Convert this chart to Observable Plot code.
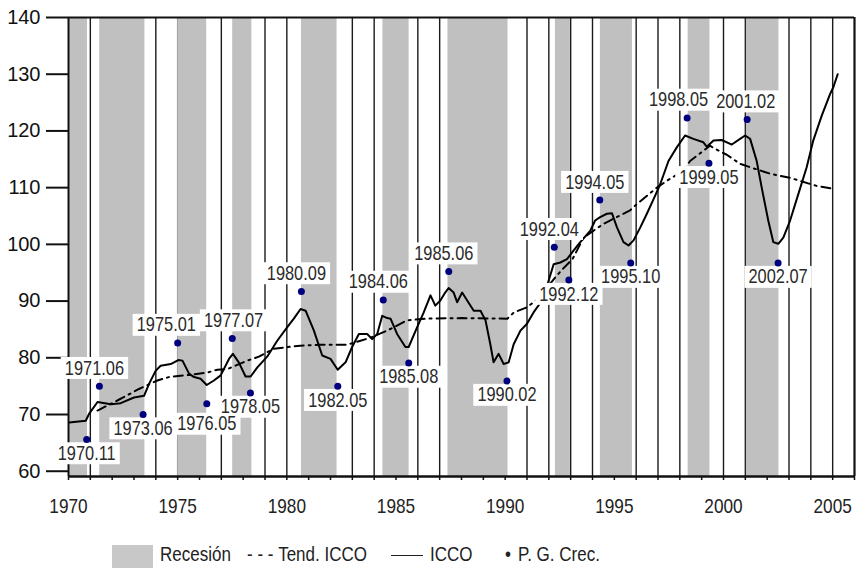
<!DOCTYPE html>
<html><head><meta charset="utf-8">
<script src="https://cdn.jsdelivr.net/npm/d3@7"></script>
<script src="https://cdn.jsdelivr.net/npm/@observablehq/plot@0.6"></script>
<style>
body{margin:0;background:#fff;}
#wrap{position:relative;width:862px;height:568px;overflow:hidden;background:#fff;}
.lg{position:absolute;font-family:"Liberation Sans",Arial,sans-serif;font-size:20px;color:#222;top:541px;line-height:26px;white-space:nowrap;transform:scaleX(0.85);transform-origin:0 50%;}
.sw{position:absolute;}
</style></head><body>
<div id="wrap"><div id="chart"></div>
<div class="sw" style="left:112px;top:545px;width:41px;height:24px;background:#c8c8c8;"></div>
<div class="lg" style="left:160px;">Recesión</div>
<div class="lg" style="left:247px;">-&nbsp;-&nbsp;-&nbsp;Tend. ICCO</div>
<div class="sw" style="left:391px;top:555px;width:32px;height:0;border-top:1.5px solid #222;"></div>
<div class="lg" style="left:430px;">ICCO</div>
<div class="lg" style="left:505px;">•</div>
<div class="lg" style="left:518px;">P. G. Crec.</div>
</div>
<script>
// ICCO index
const iccoYear = [1970.03,1970.79,1970.94,1971.33,1971.94,1972.39,1973.0,1973.46,1973.69,1973.99,1974.22,1974.68,1975.03,1975.22,1975.52,1975.75,1976.05,1976.33,1976.66,1976.97,1977.35,1977.53,1977.8,1978.11,1978.34,1978.65,1979.1,1979.56,1980.02,1980.32,1980.63,1980.86,1981.24,1981.62,1982.0,1982.33,1982.69,1982.99,1983.3,1983.68,1983.91,1984.14,1984.37,1984.6,1984.75,1985.05,1985.43,1985.58,1985.97,1986.27,1986.58,1986.8,1987.03,1987.22,1987.41,1987.64,1987.8,1988.03,1988.26,1988.56,1988.87,1989.1,1989.32,1989.47,1989.7,1989.93,1990.16,1990.39,1990.7,1991.0,1991.3,1991.69,1991.92,1992.22,1992.53,1992.83,1993.13,1993.44,1993.9,1994.12,1994.35,1994.66,1994.89,1995.12,1995.42,1995.65,1995.88,1996.19,1996.49,1996.87,1997.1,1997.48,1997.86,1998.24,1998.62,1999.08,1999.24,1999.54,1999.92,2000.38,2000.76,2000.99,2001.22,2001.52,2001.75,2002.05,2002.28,2002.51,2002.74,2003.05,2003.43,2003.81,2004.11,2004.5,2004.88,2005.03,2005.23];
const iccoValue = [68.6,68.9,70.1,72.2,71.8,72.0,73.0,73.3,75.4,77.7,78.6,78.9,79.6,79.5,77.2,76.6,76.3,75.2,76.0,76.9,79.8,80.7,79.2,76.7,76.7,78.3,80.2,83.0,85.4,86.9,88.6,88.3,84.8,80.4,79.8,77.9,79.2,81.9,84.2,84.2,83.3,84.2,87.4,87.0,86.9,84.2,81.9,81.9,85.4,88.0,91.0,89.2,90.1,91.3,92.3,91.5,89.8,91.5,90.1,88.3,88.3,86.6,82.4,79.2,80.7,78.9,79.2,82.4,84.8,86.0,88.0,90.1,92.7,96.5,96.8,97.4,98.9,100.4,102.4,104.2,104.8,105.4,105.5,103.0,100.4,99.8,100.7,103.0,105.4,108.6,110.6,114.7,117.1,119.2,118.6,118.0,117.2,118.3,118.4,117.6,118.6,119.2,118.6,114.7,110.0,104.2,100.4,100.1,101.2,104.2,108.9,113.6,118.3,122.7,126.5,127.7,130.0];

// Tendencia ICCO
const trendYear = [1971.33,1972.3,1973.23,1974.07,1974.6,1975.03,1975.6,1976.36,1976.82,1977.27,1978.19,1978.72,1979.4,1980.48,1981.5,1982.76,1983.8,1984.6,1985.5,1986.4,1988.0,1990.1,1990.4,1991.0,1991.5,1992.3,1992.6,1993.1,1993.59,1994.5,1994.8,1995.72,1996.03,1996.95,1997.4,1998.17,1998.47,1999.38,1999.54,2000.15,2000.76,2001.3,2002.1,2002.56,2003.08,2004.27,2005.03];
const trendValue = [70.7,72.6,74.5,76.0,76.6,76.8,77.0,77.4,77.9,78.0,79.5,80.2,81.6,82.1,82.3,82.3,83.5,84.8,86.6,86.9,87.0,86.9,88.0,88.9,90.4,94.2,95.5,97.5,101.2,103.6,104.2,106.0,107.1,110.0,111.2,113.0,114.7,117.4,117.0,115.8,114.2,113.5,112.5,112.1,111.7,110.3,109.8];

// Recesiones
const recStart = [1970.0,1971.43,1975.0,1977.52,1980.67,1984.4,1987.38,1992.3,1994.36,1998.38,2001.05];
const recEnd   = [1970.87,1973.5,1976.33,1978.4,1982.3,1985.6,1990.13,1992.99,1995.83,1999.38,2002.54];

// Puntos de giro del crecimiento
const pgYear  = [1970,1971,1973,1975,1976,1977,1978,1980,1982,1984,1985,1987,1990,1992,1992,1994,1995,1998,1999,2001,2002];
const pgMonth = [11,6,6,1,5,7,5,9,5,6,8,6,2,4,12,5,10,5,5,2,7];
const pgValue = [65.6,75.0,70.0,82.6,71.9,83.4,73.8,91.7,75.0,90.2,79.1,95.2,75.9,99.5,93.7,107.8,96.7,122.3,114.3,122.0,96.7];
const pgType  = ["T","P","T","P","T","P","T","P","T","P","T","P","T","P","T","P","T","P","T","P","T"];
const pgLabel = ["1970.11","1971.06","1973.06","1975.01","1976.05","1977.07","1978.05","1980.09","1982.05","1984.06","1985.08","1985.06","1990.02","1992.04","1992.12","1994.05","1995.10","1998.05","1999.05","2001.02","2002.07"];

const yTicks = [60,70,80,90,100,110,120,130,140];
const xLabelYears = [1970,1975,1980,1985,1990,1995,2000,2005];
const xTickYears = d3.range(1970, 2007);

const icco = iccoYear.map((x,i)=>({x, y:iccoValue[i]}));
const trend = trendYear.map((x,i)=>({x, y:trendValue[i]}));
const rec = recStart.map((s,i)=>({s, e:recEnd[i]}));
const pg = pgYear.map((yr,i)=>({x: yr + (pgMonth[i]-1)/12, y: pgValue[i], type: pgType[i], label: pgLabel[i]}));

const yMin = 59.07;
const sans = "Liberation Sans, Arial, sans-serif";

const chart = Plot.plot({
  width: 862, height: 530,
  marginLeft: 68, marginRight: 8, marginTop: 17, marginBottom: 54,
  x: {domain: [1970, 2006]},
  y: {domain: [yMin, 140]},
  style: {background: "#fff", color: "#111", overflow: "visible"},
  marks: [
    Plot.ruleX(xTickYears.slice(1), {stroke: "#1a1a1a", strokeWidth: 1.4}),
    Plot.rect(rec, {x1: "s", x2: "e", fill: "#c0c0c0"}),
    Plot.ruleX([1970], {stroke: "#111", strokeWidth: 2}),
    Plot.ruleX([2006], {stroke: "#111", strokeWidth: 2}),
    Plot.ruleY([140], {stroke: "#111", strokeWidth: 2}),
    Plot.ruleY([yMin], {stroke: "#111", strokeWidth: 2.5}),
    Plot.axisY(yTicks, {tickSize: 22, tickPadding: 6, fontSize: 20, fontFamily: sans, strokeWidth: 2, label: null}),
    Plot.axisX(xTickYears, {tickSize: 4, tickFormat: () => "", strokeWidth: 1.5, label: null}),
    Plot.axisX(xLabelYears, {tickSize: 0, tickPadding: 22, fontSize: 21, fontFamily: sans, fill: "#222", tickFormat: d => String(d), label: null}),
    Plot.line(trend, {x: "x", y: "y", stroke: "#000", strokeWidth: 2, strokeDasharray: "9,5,2,5"}),
    Plot.line(icco, {x: "x", y: "y", stroke: "#000", strokeWidth: 2}),
    Plot.text(pg.filter(d => d.type === "P"), {x: "x", y: "y", text: "label", dx: -5, dy: -18, fontSize: 20, fontFamily: sans, fill: "#2a2a2a", className: "pglab"}),
    Plot.text(pg.filter(d => d.type === "T"), {x: "x", y: "y", text: "label", dx: 0, dy: 14, fontSize: 20, fontFamily: sans, fill: "#2a2a2a", className: "pglab"}),
    Plot.dot(pg, {x: "x", y: "y", r: 3.5, fill: "#00007f"})
  ]
});
document.getElementById("chart").appendChild(chart);

// condense a text element horizontally around its anchor
function condense(t, k) {
  const x = +(t.getAttribute("x") || 0);
  const T = t.getAttribute("transform") || "";
  t.setAttribute("transform", `${T} translate(${x},0) scale(${k},1) translate(${-x},0)`);
}
chart.querySelectorAll('g[aria-label="x-axis tick label"] text').forEach(t => condense(t, 0.82));

// white boxes behind turning-point labels
const items = [];
chart.querySelectorAll("g.pglab").forEach((g, gi) => {
  const texts = Array.from(g.querySelectorAll("text"));
  const first = g.firstChild;
  texts.forEach(t => {
    condense(t, 0.82);
    const b = t.getBBox();
    const r = document.createElementNS("http://www.w3.org/2000/svg", "rect");
    r.setAttribute("x", b.x - 5);
    r.setAttribute("y", b.y + 1);
    r.setAttribute("width", b.width + 10);
    r.setAttribute("height", b.height - 1);
    r.setAttribute("fill", "#fff");
    r.setAttribute("transform", t.getAttribute("transform") || "");
    g.insertBefore(r, first);
    items.push({t, r, peak: gi === 0});
  });
});

// collision avoidance: peaks are spread sideways, troughs pushed down
function shift(it, dx, dy) {
  [it.t, it.r].forEach(el => el.setAttribute("transform", `translate(${dx},${dy}) ` + el.getAttribute("transform")));
}
for (let i = 0; i < items.length; i++) {
  for (let j = i + 1; j < items.length; j++) {
    const a = items[i].t.getBoundingClientRect(), b = items[j].t.getBoundingClientRect();
    const ox = Math.min(a.right, b.right) - Math.max(a.left, b.left);
    const oy = Math.min(a.bottom, b.bottom) - Math.max(a.top, b.top);
    if (ox > -4 && oy > 2) {
      if (items[i].peak && items[j].peak) {
        const [L, R] = a.left < b.left ? [items[i], items[j]] : [items[j], items[i]];
        shift(L, -(ox + 8) / 2, 0);
        shift(R, (ox + 8) / 2, 0);
      } else if (ox > 1) {
        const ca = (a.top + a.bottom) / 2, cb = (b.top + b.bottom) / 2;
        const low = ca > cb ? items[i] : items[j];
        const d = 17 - Math.abs(ca - cb);
        if (d > 0) shift(low, 0, d);
      }
    }
  }
}
</script>
</body></html>
